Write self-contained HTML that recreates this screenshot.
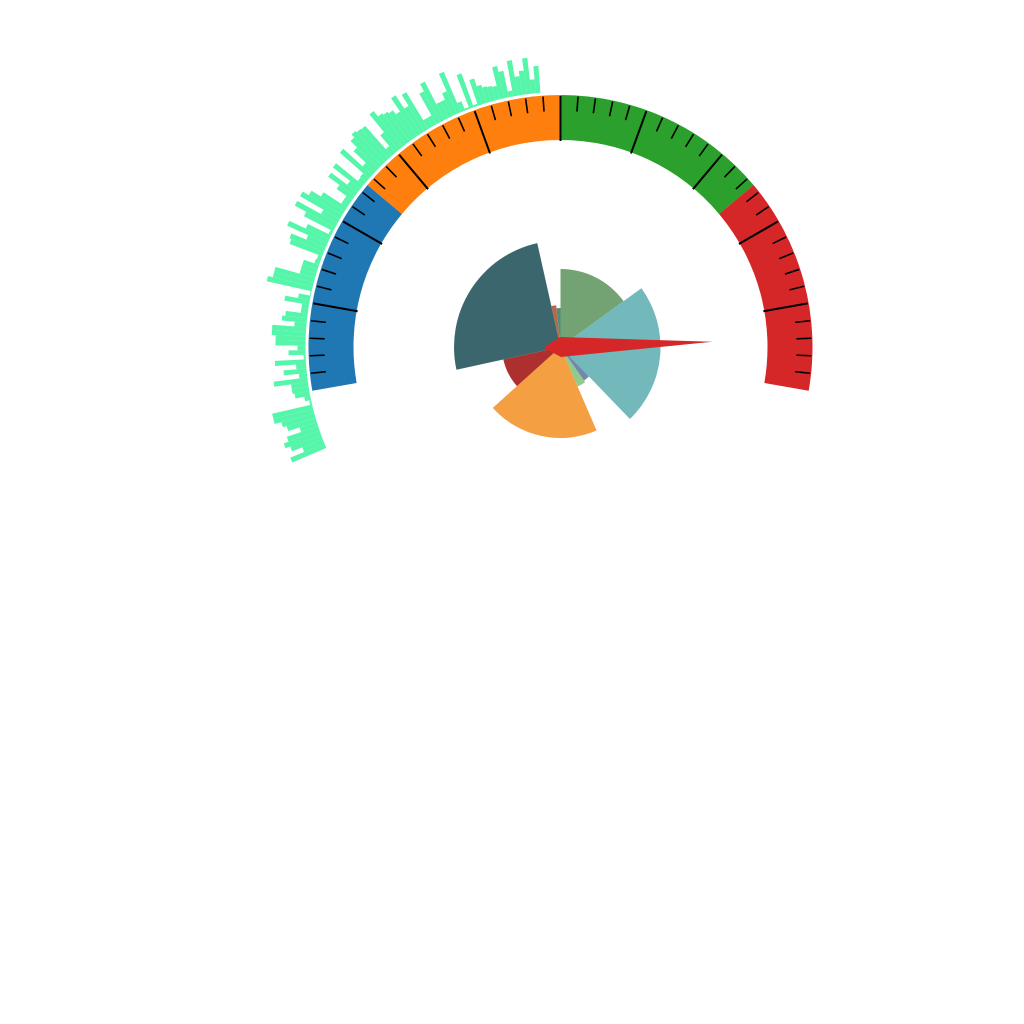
<!DOCTYPE html>
<html lang="en">
<head>
<meta charset="utf-8">
<title>Gauge, rose and polar bar chart</title>
<style>
  html, body { margin: 0; padding: 0; background: #ffffff; }
  #chart { display: block; width: 1024px; height: 1024px; }
</style>
</head>
<body>
<svg id="chart" width="1024" height="1024" viewBox="0 0 1024 1024" xmlns="http://www.w3.org/2000/svg"></svg>
<script>
// Polar bar series: one radial length per bar
const barValues = [37,22,33,38,33,18,30,34,41,41,2,6,15,17,17,34,8,23,10,31,2,17,8,30,30,34,34,12,25,22,7,7,25,12,1,46,41,41,16,16,16,5,4,35,37,21,44,26,3,33,46,19,46,39,28,7,7,19,33,13,35,7,8,39,13,30,39,43,41,40,9,23,46,39,37,35,30,46,30,43,10,10,35,43,18,18,25,44,10,2,36,2,27,19,16,15,14,33,27,6,36,19,24,36,14,27];
// Gauge
const gaugeStops = [0.25, 0.5, 0.75, 1];
const gaugeColors = ['#1f77b4', '#ff7f0e', '#2ca02c', '#d62728'];
const gaugeSplits = [10];
const gaugeMinorPerSplit = [5];
const pointerValue = [0.94];
// Rose pie: angular share and radial value for each slice, clockwise from 12 o'clock
const sliceNames = ['sage', 'teal', 'slate', 'light-green', 'orange', 'red', 'dark-teal', 'brown', 'sea-green'];
const sliceShares = [54, 82, 9, 11.6, 71.4, 29.6, 89.7, 6.7, 5.9];
const sliceValues = [78, 100, 41, 43, 91, 58.5, 106.5, 42, 39];
const sliceColors = ['#73a373', '#73b9bc', '#7289ab', '#91ca8c', '#f49f42', '#ae302e', '#3c666e', '#b8674c', '#4f8d7a'];

const NS = 'http://www.w3.org/2000/svg';
const svg = document.getElementById('chart');
const cx = 560.5, cy = 347;

// Axis functions
function gaugeAngle(t) { return 190 - 200 * t; }
function barAngle(i) { return 203.3 - (203.3 - 94.5) * i / barValues.length; }
function barRadius(v) { return 255 + v; }
function rad(d) { return d * Math.PI / 180; }
function px(r, a) { return cx + r * Math.cos(rad(a)); }
function py(r, a) { return cy - r * Math.sin(rad(a)); }
function sector(r0, r1, a0, a1) {
  const large = Math.abs(a0 - a1) > 180 ? 1 : 0;
  let d = 'M' + px(r1, a0).toFixed(2) + ' ' + py(r1, a0).toFixed(2);
  d += ' A' + r1 + ' ' + r1 + ' 0 ' + large + ' 1 ' + px(r1, a1).toFixed(2) + ' ' + py(r1, a1).toFixed(2);
  if (r0 > 0) {
    d += ' L' + px(r0, a1).toFixed(2) + ' ' + py(r0, a1).toFixed(2);
    d += ' A' + r0 + ' ' + r0 + ' 0 ' + large + ' 0 ' + px(r0, a0).toFixed(2) + ' ' + py(r0, a0).toFixed(2);
  } else {
    d += ' L' + cx + ' ' + cy;
  }
  return d + ' Z';
}

// Polar bars
const barGroup = document.createElementNS(NS, 'g');


svg.appendChild(barGroup);
barValues.forEach(function (v, i) {
  const p = document.createElementNS(NS, 'path');
  p.setAttribute('d', sector(255, barRadius(v), barAngle(i), barAngle(i + 1)));
  p.setAttribute('fill', '#55f5aa');
  
  
  barGroup.appendChild(p);
});

// Gauge bands
const gaugeGroup = document.createElementNS(NS, 'g');


svg.appendChild(gaugeGroup);
gaugeStops.forEach(function (stop, i) {
  const start = i === 0 ? 0 : gaugeStops[i - 1];
  const p = document.createElementNS(NS, 'path');
  p.setAttribute('d', sector(207, 252, gaugeAngle(start), gaugeAngle(stop)));
  p.setAttribute('fill', gaugeColors[i]);
  
  
  gaugeGroup.appendChild(p);
});

// Gauge ticks
const tickTotal = gaugeSplits[0] * gaugeMinorPerSplit[0];
for (let k = 1; k < tickTotal; k++) {
  const major = k % gaugeMinorPerSplit[0] === 0;
  const a = gaugeAngle(k / tickTotal);
  const l = document.createElementNS(NS, 'line');
  l.setAttribute('x1', px(251, a));
  l.setAttribute('y1', py(251, a));
  l.setAttribute('x2', px(major ? 206 : 236, a));
  l.setAttribute('y2', py(major ? 206 : 236, a));
  l.setAttribute('stroke', '#000000');
  l.setAttribute('stroke-width', major ? 2 : 1.6);
  
  
  gaugeGroup.appendChild(l);
}

// Rose pie
const pieGroup = document.createElementNS(NS, 'g');


svg.appendChild(pieGroup);
const shareTotal = sliceShares.reduce(function (s, v) { return s + v; }, 0);
let sliceStart = 90;
sliceShares.forEach(function (share, i) {
  const sweep = share / shareTotal * 360;
  const p = document.createElementNS(NS, 'path');
  p.setAttribute('d', sector(0, sliceValues[i], sliceStart, sliceStart - sweep));
  p.setAttribute('fill', sliceColors[i]);
  
  
  pieGroup.appendChild(p);
  sliceStart -= sweep;
});

// Pointer
const pa = gaugeAngle(pointerValue[0]);
const pointer = document.createElementNS(NS, 'polygon');
pointer.setAttribute('points', [
  [px(152, pa), py(152, pa)],
  [px(10, pa - 90), py(10, pa - 90)],
  [px(17, pa + 180), py(17, pa + 180)],
  [px(10, pa + 90), py(10, pa + 90)]
].map(function (q) { return q[0].toFixed(2) + ',' + q[1].toFixed(2); }).join(' '));
pointer.setAttribute('fill', '#d62728');


svg.appendChild(pointer);
</script>
</body>
</html>
